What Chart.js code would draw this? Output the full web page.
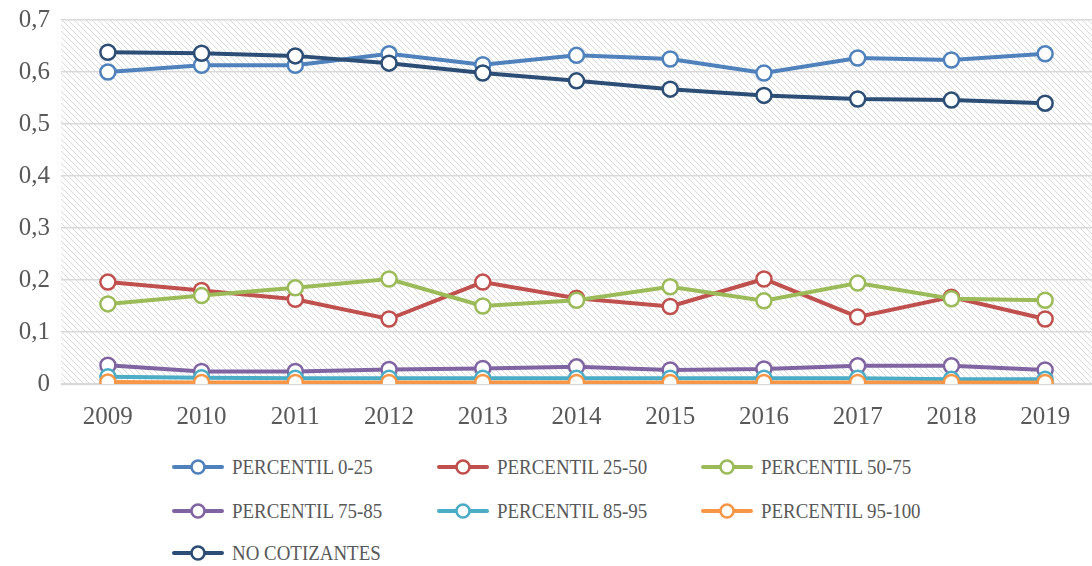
<!DOCTYPE html>
<html>
<head>
<meta charset="utf-8">
<script src="https://cdn.jsdelivr.net/npm/chart.js@4.4.0/dist/chart.umd.min.js"></script>
<style>
  html, body { margin: 0; padding: 0; background: #fff; overflow: hidden; width: 1092px; height: 566px; }
  #wrap { position: relative; width: 1102px; height: 566px; }
  #c { position: absolute; left: 0; top: 0; }
  .leg { position: absolute; height: 30px; display: flex; align-items: center; white-space: nowrap; }
  .leg svg { flex: none; }
  .leg span { font-family: "Liberation Serif", serif; font-size: 21.5px; line-height: 30px; color: #595959; display: inline-block; transform: scaleX(0.88); transform-origin: left center; margin-left: 8px; }
</style>
</head>
<body>
<div id="wrap">
  <canvas id="c" width="1102" height="440"></canvas>
  <div id="legend"></div>
</div>
<script>
const categories = ['2009','2010','2011','2012','2013','2014','2015','2016','2017','2018','2019'];
const seriesNames = ['PERCENTIL 0-25','PERCENTIL 25-50','PERCENTIL 50-75','PERCENTIL 75-85','PERCENTIL 85-95','PERCENTIL 95-100','NO COTIZANTES'];
const p0_25   = [0.600, 0.613, 0.613, 0.635, 0.614, 0.632, 0.625, 0.598, 0.627, 0.623, 0.635];
const p25_50  = [0.196, 0.180, 0.163, 0.125, 0.196, 0.165, 0.149, 0.202, 0.129, 0.167, 0.125];
const p50_75  = [0.154, 0.170, 0.185, 0.202, 0.150, 0.161, 0.187, 0.160, 0.194, 0.164, 0.161];
const p75_85  = [0.036, 0.024, 0.024, 0.028, 0.030, 0.033, 0.027, 0.029, 0.035, 0.035, 0.027];
const p85_95  = [0.014, 0.012, 0.011, 0.011, 0.011, 0.011, 0.011, 0.011, 0.011, 0.009, 0.009];
const p95_100 = [0.004, 0.003, 0.003, 0.003, 0.003, 0.003, 0.003, 0.003, 0.003, 0.003, 0.003];
const noCotizantes = [0.638, 0.636, 0.631, 0.617, 0.598, 0.583, 0.567, 0.555, 0.548, 0.546, 0.540];
const yTickLabels = ['0','0,1','0,2','0,3','0,4','0,5','0,6','0,7'];

const seriesValues = [p0_25, p25_50, p50_75, p75_85, p85_95, p95_100, noCotizantes];
const colors = ['#4F81BD','#C0504D','#9BBB59','#8064A2','#4BACC6','#F79646','#2C4D75'];

const hatchPlugin = {
  id: 'hatch',
  beforeDraw(chart) {
    const {ctx, chartArea: a} = chart;
    const pc = document.createElement('canvas');
    pc.width = 6; pc.height = 6;
    const p = pc.getContext('2d');
    p.strokeStyle = '#DADADA';
    p.lineWidth = 1;
    p.beginPath();
    p.moveTo(-1, -1); p.lineTo(7, 7);
    p.moveTo(-1, 5); p.lineTo(1, 7);
    p.moveTo(5, -1); p.lineTo(7, 1);
    p.stroke();
    ctx.save();
    ctx.fillStyle = ctx.createPattern(pc, 'repeat');
    ctx.fillRect(a.left, a.top, a.right - a.left, a.bottom - a.top);
    ctx.restore();
  }
};

const datasets = seriesValues.map((vals, i) => ({
  label: seriesNames[i],
  data: vals,
  borderColor: colors[i],
  backgroundColor: '#FFFFFF',
  borderWidth: 4,
  pointRadius: 7.5,
  pointBorderWidth: 2.5,
  pointBackgroundColor: '#FFFFFF',
  pointBorderColor: colors[i],
  pointHoverRadius: 7.5,
  tension: 0,
  fill: false,
  order: 7 - i
}));

new Chart(document.getElementById('c'), {
  type: 'line',
  data: { labels: categories, datasets },
  plugins: [hatchPlugin],
  options: {
    responsive: false,
    animation: false,
    layout: { padding: { top: 20, left: 0, right: 0, bottom: 0 } },
    plugins: { legend: { display: false }, tooltip: { enabled: false } },
    scales: {
      x: {
        type: 'category',
        offset: true,
        grid: { display: false, drawTicks: false, tickLength: 0 },
        border: { display: false },
        ticks: { color: '#595959', font: { family: 'Liberation Serif', size: 25 }, padding: 18, maxRotation: 0, autoSkip: false },
        afterFit(s) { s.height = 56; }
      },
      y: {
        min: 0, max: 0.7,
        grid: {
          color: '#D9D9D9',
          lineWidth: (ctx) => (ctx.tick && ctx.tick.value === 0 ? 2.2 : 1.5),
          drawTicks: false, tickLength: 0
        },
        border: { display: false },
        ticks: {
          stepSize: 0.1,
          color: '#595959',
          font: { family: 'Liberation Serif', size: 25, lineHeight: 0.6 },
          padding: 11,
          callback: (v, idx) => yTickLabels[idx]
        },
        afterFit(s) { s.width = 61; s.paddingTop = 0; s.paddingBottom = 0; }
      }
    }
  }
});

// legend as real text, laid out in three columns like the reference
const legend = document.getElementById('legend');
const colX = [172, 437, 701];
const rowY = [467, 511, 553];
seriesNames.forEach((name, i) => {
  const d = document.createElement('div');
  d.className = 'leg';
  d.style.left = colX[i % 3] + 'px';
  d.style.top = (rowY[Math.floor(i / 3)] - 15) + 'px';
  d.innerHTML = '<svg width="52" height="18" viewBox="0 0 52 18">' +
    '<line x1="2" y1="9" x2="50" y2="9" stroke="' + colors[i] + '" stroke-width="4" stroke-linecap="round"/>' +
    '<circle cx="26" cy="9" r="6.5" fill="#fff" stroke="' + colors[i] + '" stroke-width="2.6"/></svg>' +
    '<span>' + name + '</span>';
  legend.appendChild(d);
});
</script>
</body>
</html>
